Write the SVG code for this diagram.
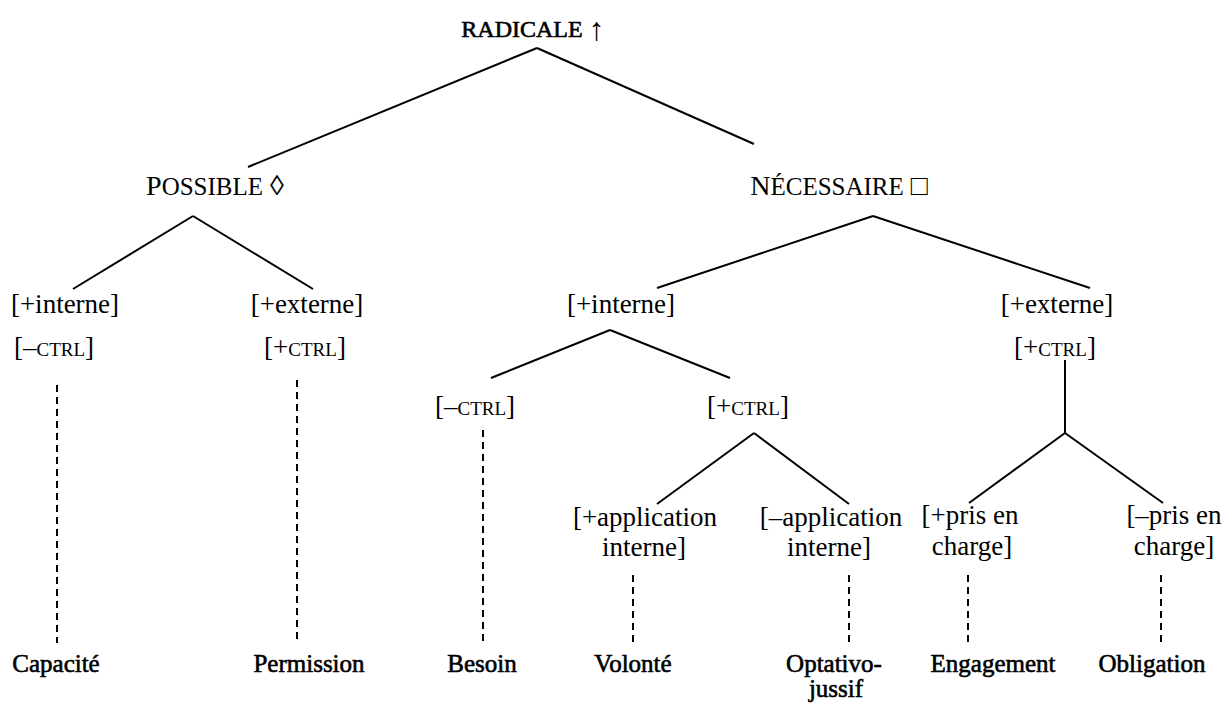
<svg xmlns="http://www.w3.org/2000/svg" width="1232" height="706" viewBox="0 0 1232 706">
<style>
  .txt text { fill: #000; text-anchor: middle; font-family: "Liberation Serif", "Noto Serif", "Nimbus Roman", FreeSerif, Tinos, Times, "DejaVu Serif", serif; }
  .t { font-size: 27px; }
  .sc { font-size: 19px; }
  .big { font-size: 28px; }
  .sc2 { font-size: 25px; }
  .leaf { font-size: 25px; stroke: #000; stroke-width: 0.6; }
  .title { font-size: 24px; stroke: #000; stroke-width: 0.6; }
  .arrow { font-size: 32px; stroke-width: 0; }
  .edge { stroke: #000; stroke-width: 2; fill: none; }
  .dash { stroke: #000; stroke-width: 2; fill: none; stroke-dasharray: 7 5; }
</style>
<rect width="1232" height="706" fill="#fff"/>
<g id="connectors">
  <line class="edge" x1="537" y1="48" x2="248" y2="167"/>
  <line class="edge" x1="537" y1="48" x2="754" y2="144"/>
  <line class="edge" x1="193" y1="216" x2="73" y2="289"/>
  <line class="edge" x1="193" y1="216" x2="313" y2="289"/>
  <line class="edge" x1="873" y1="216" x2="657" y2="288"/>
  <line class="edge" x1="873" y1="216" x2="1090" y2="288"/>
  <line class="edge" x1="610" y1="330" x2="491" y2="378"/>
  <line class="edge" x1="610" y1="330" x2="730" y2="378"/>
  <line class="edge" x1="754" y1="433" x2="657" y2="504"/>
  <line class="edge" x1="754" y1="433" x2="849" y2="504"/>
  <line class="edge" x1="1065" y1="360" x2="1065" y2="433"/>
  <line class="edge" x1="1065" y1="433" x2="969" y2="503"/>
  <line class="edge" x1="1065" y1="433" x2="1163" y2="503"/>
  <line class="dash" x1="57" y1="385" x2="57" y2="643"/>
  <line class="dash" x1="297" y1="380" x2="297" y2="643"/>
  <line class="dash" x1="483" y1="430" x2="483" y2="643"/>
  <line class="dash" x1="633" y1="575" x2="633" y2="643"/>
  <line class="dash" x1="849" y1="575" x2="849" y2="643"/>
  <line class="dash" x1="968" y1="575" x2="968" y2="643"/>
  <line class="dash" x1="1161" y1="575" x2="1161" y2="643"/>
</g>
<g class="txt">
<g id="radicale"><text class="title" x="533" y="37">RADICALE <tspan class="arrow" dy="3">↑</tspan></text></g>
<g id="possible"><text x="215" y="195"><tspan class="big">P</tspan><tspan class="sc2">OSSIBLE</tspan><tspan class="big"> ◊</tspan></text></g>
<g id="necessaire"><text x="839" y="195"><tspan class="big">N</tspan><tspan class="sc2">ÉCESSAIRE</tspan><tspan class="big"> □</tspan></text></g>
<g id="p-interne"><text class="t" x="65" y="313">[+interne]</text></g>
<g id="p-externe"><text class="t" x="307" y="313">[+externe]</text></g>
<g id="p-interne-ctrl"><text class="t" x="54" y="356">[–<tspan class="sc">CTRL</tspan>]</text></g>
<g id="p-externe-ctrl"><text class="t" x="305" y="356">[+<tspan class="sc">CTRL</tspan>]</text></g>
<g id="n-interne"><text class="t" x="621" y="313">[+interne]</text></g>
<g id="n-externe"><text class="t" x="1057" y="313">[+externe]</text></g>
<g id="n-externe-ctrl"><text class="t" x="1055" y="356">[+<tspan class="sc">CTRL</tspan>]</text></g>
<g id="n-minus-ctrl"><text class="t" x="475" y="415">[–<tspan class="sc">CTRL</tspan>]</text></g>
<g id="n-plus-ctrl"><text class="t" x="748" y="415">[+<tspan class="sc">CTRL</tspan>]</text></g>
<g id="plus-application"><text class="t" x="645" y="526">[+application</text><text class="t" x="644" y="556">interne]</text></g>
<g id="minus-application"><text class="t" x="831" y="526">[–application</text><text class="t" x="829" y="556">interne]</text></g>
<g id="plus-pris"><text class="t" x="970" y="524">[+pris en</text><text class="t" x="972" y="555">charge]</text></g>
<g id="minus-pris"><text class="t" x="1174" y="524">[–pris en</text><text class="t" x="1174" y="555">charge]</text></g>
<g id="capacite"><text class="leaf" x="56" y="672">Capacité</text></g>
<g id="permission"><text class="leaf" x="309" y="672">Permission</text></g>
<g id="besoin"><text class="leaf" x="482" y="672">Besoin</text></g>
<g id="volonte"><text class="leaf" x="633" y="672">Volonté</text></g>
<g id="optativo"><text class="leaf" x="834" y="672">Optativo-</text><text class="leaf" x="836" y="697">jussif</text></g>
<g id="engagement"><text class="leaf" x="993" y="672">Engagement</text></g>
<g id="obligation"><text class="leaf" x="1152" y="672">Obligation</text></g>
</g>
</svg>
